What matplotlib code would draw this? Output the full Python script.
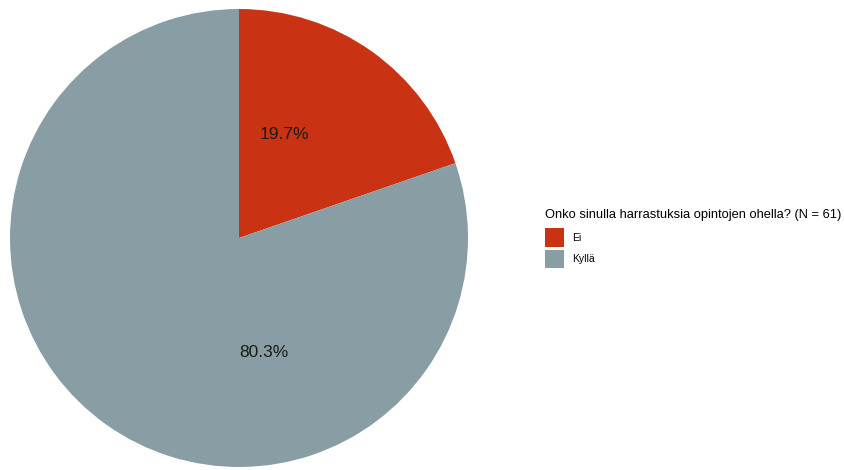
import matplotlib
matplotlib.use("Agg")
import matplotlib.pyplot as plt
from matplotlib.patches import Patch

plt.rcParams['font.family'] = ['Liberation Sans', 'DejaVu Sans']

categories = ["Ei", "Kyllä"]
values = [19.7, 80.3]
colors = ["#C93313", "#899DA4"]
legend_title = "Onko sinulla harrastuksia opintojen ohella? (N = 61)"

fig = plt.figure(figsize=(8.45, 4.7), dpi=100)
ax = fig.add_axes([10/845, 3/470, 458/845, 458/470])
wedges, _ = ax.pie(values, colors=colors, startangle=90, counterclock=False,
                   radius=1, wedgeprops=dict(linewidth=0))
ax.set_xlim(-1, 1)
ax.set_ylim(-1, 1)
ax.set_aspect('equal')
ax.axis('off')

label_pos = [(0.20, 0.451), (0.11, -0.499)]
for (x, y), v in zip(label_pos, values):
    ax.text(x, y, f"{v:.1f}%", ha='center', va='center', fontsize=12.5, color='#1a1a1a')

handles = [Patch(facecolor=c, edgecolor='none') for c in colors]
leg = fig.legend(handles, categories, title=legend_title, loc='upper left',
                 bbox_to_anchor=(545/845, 1 - 209/470), frameon=False,
                 fontsize=7.5, title_fontsize=9.3, handlelength=1.85, handleheight=2.4,
                 handletextpad=0.75, labelspacing=0.28, borderaxespad=0, borderpad=0)
leg._legend_box.align = "left"
leg._legend_box.sep = 5
fig.savefig("out.png", dpi=100)
